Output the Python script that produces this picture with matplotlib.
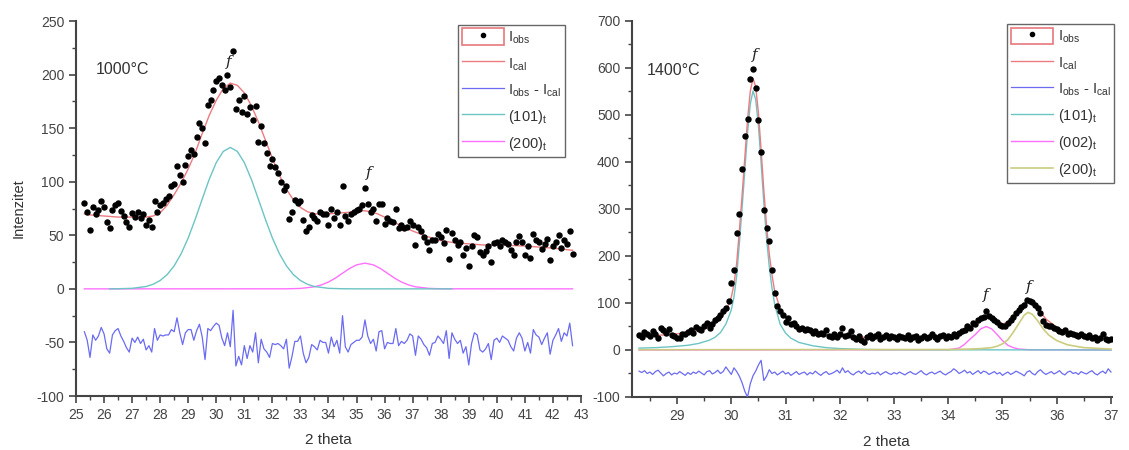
import numpy as np
import matplotlib
matplotlib.use("Agg")
import matplotlib.pyplot as plt
from matplotlib.lines import Line2D
from matplotlib.patches import Rectangle
from matplotlib.legend_handler import HandlerTuple
from matplotlib.ticker import MultipleLocator

plt.rcParams['font.family'] = ['Liberation Sans', 'DejaVu Sans']
plt.rcParams['mathtext.fontset'] = 'custom'
plt.rcParams['mathtext.rm'] = 'Liberation Sans'
plt.rcParams['mathtext.it'] = 'Liberation Sans:italic'
plt.rcParams['axes.unicode_minus'] = False

# ---------------- 1000 C : scan 25.3 .. 42.7, step 0.1 ----------------
obs_1000 = [80, 72, 55, 76, 70, 74, 82, 76, 62, 57,
            74, 78, 80, 73, 68, 62, 58, 71, 67, 72,
            66, 70, 60, 64, 58, 82, 72, 78, 80, 84,
            87, 96, 98, 115, 106, 100, 116, 124, 130, 126,
            142, 155, 150, 136, 172, 176, 186, 194, 197, 190,
            186, 200, 188, 222, 168, 176, 165, 180, 163, 170,
            158, 171, 137, 152, 136, 127, 115, 121, 114, 108,
            100, 92, 96, 65, 72, 83, 80, 82, 64, 54,
            58, 69, 66, 63, 72, 70, 70, 60, 75, 66,
            72, 60, 96, 68, 63, 70, 72, 74, 75, 78,
            94, 79, 72, 75, 63, 79, 79, 61, 66, 63,
            62, 75, 57, 60, 57, 58, 63, 60, 41, 58,
            54, 48, 44, 36, 46, 46, 51, 48, 43, 55,
            28, 52, 46, 41, 44, 32, 38, 21, 40, 50,
            48, 34, 32, 35, 40, 25, 43, 44, 40, 46,
            44, 42, 36, 32, 44, 49, 44, 32, 40, 29,
            51, 46, 44, 37, 42, 47, 27, 40, 44, 50,
            38, 46, 42, 54, 33]
res_1000 = [-40, -48, -64, -43, -48, -44, -36, -42, -56, -60,
            -43, -39, -37, -44, -49, -55, -59, -46, -50, -45,
            -51, -47, -57, -53, -59, -37, -48, -43, -44, -43,
            -43, -38, -40, -27, -41, -52, -41, -38, -38, -48,
            -39, -33, -45, -66, -37, -39, -35, -32, -34, -46,
            -53, -41, -54, -20, -72, -63, -71, -53, -65, -53,
            -59, -41, -69, -47, -56, -59, -64, -51, -52, -51,
            -53, -56, -47, -74, -63, -49, -49, -44, -60, -69,
            -64, -52, -54, -57, -48, -50, -50, -60, -45, -54,
            -48, -60, -25, -54, -59, -52, -50, -48, -48, -45,
            -29, -44, -51, -47, -58, -40, -39, -56, -50, -51,
            -51, -37, -53, -49, -51, -48, -42, -44, -62, -44,
            -47, -52, -55, -62, -51, -50, -44, -47, -51, -39,
            -65, -41, -47, -51, -48, -60, -54, -71, -51, -41,
            -43, -57, -59, -56, -51, -66, -48, -46, -50, -44,
            -46, -48, -54, -58, -46, -41, -46, -58, -50, -60,
            -38, -43, -45, -52, -46, -41, -61, -48, -43, -37,
            -49, -41, -44, -32, -53]

cal_1000_x = [25.3, 25.5, 26.0, 26.5, 27.0, 27.5, 27.75, 28.0, 28.25, 28.5,
              28.75, 29.0, 29.25, 29.5, 29.75, 30.0, 30.25, 30.5, 30.75, 31.0,
              31.25, 31.5, 31.75, 32.0, 32.25, 32.5, 32.75, 33.0, 33.25, 33.5,
              33.75, 34.0, 34.5, 35.0, 35.25, 35.5, 35.75, 36.0, 36.5, 37.0,
              37.5, 38.0, 38.5, 39.0, 39.5, 40.0, 41.0, 41.5, 42.0, 42.7]
cal_1000 = [70, 69, 68, 67, 67, 67, 68, 71, 78, 88,
            99, 112, 127, 145, 162, 176, 187, 192, 190, 183,
            171, 156, 139, 122, 106, 93, 83, 76, 72, 70,
            70, 70, 71, 72, 73, 72, 70, 67, 60, 54,
            49, 45, 43, 42, 41, 41, 40, 39, 38, 36]

p101_1000_x = [26.2, 26.5, 27.0, 27.5, 27.75, 28.0, 28.25, 28.5, 28.75, 29.0,
               29.25, 29.5, 29.75, 30.0, 30.25, 30.5, 30.75, 31.0, 31.25, 31.5,
               31.75, 32.0, 32.25, 32.5, 32.75, 33.0, 33.25, 33.5, 34.0, 34.5,
               35.0, 38.4]
p101_1000 = [0, 0.1, 0.5, 2.2, 4.3, 7.8, 13.3, 21.5, 32.9, 47.5,
             65, 83.8, 102.3, 117.9, 128.3, 132, 128.3, 117.9, 102.3, 83.8,
             65, 47.5, 32.9, 21.5, 13.3, 7.8, 4.3, 2.2, 0.5, 0.1,
             0, 0]

p200_1000_x = [25.3, 32.5, 33.0, 33.5, 33.75, 34.0, 34.25, 34.5, 34.75, 35.0,
               35.3, 35.6, 35.85, 36.1, 36.35, 36.6, 36.85, 37.1, 37.6, 38.1,
               42.7]
p200_1000 = [0, 0.05, 0.4, 1.9, 3.7, 6.4, 10.1, 14.6, 19, 22.4,
             24, 22.4, 19, 14.6, 10.1, 6.4, 3.7, 1.9, 0.4, 0.05,
             0]

# ---------------- 1400 C : scan 28.3 .. 37.0, step 0.05 ----------------
obs_1400 = [32, 28, 38, 35, 30, 40, 33, 25, 47, 42,
            36, 44, 32, 30, 26, 25, 34, 33, 38, 43,
            36, 48, 45, 42, 52, 58, 47, 56, 64, 68,
            74, 82, 90, 104, 142, 170, 249, 290, 385, 456,
            492, 577, 597, 557, 490, 422, 298, 260, 232, 170,
            121, 94, 82, 74, 60, 67, 55, 58, 50, 44,
            46, 42, 44, 43, 36, 40, 34, 36, 33, 43,
            30, 28, 33, 27, 35, 46, 30, 32, 40, 27,
            24, 30, 22, 18, 28, 32, 26, 29, 34, 24,
            27, 31, 25, 29, 28, 23, 30, 27, 26, 31,
            24, 27, 29, 22, 26, 30, 25, 28, 33, 27,
            24, 29, 31, 26, 29, 27, 33, 30, 36, 40,
            43, 50, 47, 57, 55, 64, 68, 71, 82, 72,
            68, 64, 60, 54, 52, 50, 57, 63, 71, 78,
            85, 92, 96, 106, 104, 103, 95, 89, 78, 62,
            53, 50, 52, 46, 44, 40, 39, 42, 35, 36,
            33, 32, 30, 33, 29, 27, 31, 25, 28, 22,
            26, 35, 24, 21, 23]
res_1400 = [-45, -48, -44, -50, -47, -52, -46, -43, -49, -55,
            -50, -47, -53, -49, -51, -46, -50, -54, -48, -52,
            -47, -50, -45, -49, -53, -46, -44, -51, -48, -43,
            -50, -46, -36, -44, -52, -38, -46, -56, -70, -88,
            -100, -72, -55, -45, -32, -22, -65, -56, -42, -50,
            -47, -53, -49, -45, -51, -48, -54, -50, -46, -52,
            -49, -47, -53, -48, -51, -45, -50, -54, -49, -46,
            -52, -50, -47, -43, -49, -38, -48, -44, -50, -53,
            -48, -45, -50, -44, -50, -52, -49, -51, -47, -53,
            -49, -46, -50, -52, -48, -51, -47, -50, -53, -49,
            -46, -50, -52, -48, -44, -50, -53, -49, -47, -51,
            -48, -45, -50, -53, -49, -46, -40, -44, -50, -47,
            -43, -49, -46, -52, -48, -44, -50, -45, -47, -52,
            -49, -46, -51, -48, -54, -50, -47, -52, -49, -45,
            -48, -51, -55, -47, -44, -50, -53, -46, -42, -48,
            -52, -49, -46, -51, -48, -44, -50, -53, -47, -45,
            -50, -48, -52, -46, -49, -51, -47, -44, -50, -53,
            -48, -45, -50, -40, -47]

cal_1400_x = [28.3, 28.6, 28.9, 29.2, 29.4, 29.6, 29.7, 29.8, 29.9, 30.0,
              30.05, 30.1, 30.15, 30.2, 30.25, 30.3, 30.35, 30.4, 30.45, 30.5,
              30.55, 30.6, 30.65, 30.7, 30.75, 30.8, 30.9, 31.0, 31.1, 31.25,
              31.5, 31.75, 32.0, 32.5, 33.0, 33.5, 34.0, 34.2, 34.4, 34.55,
              34.65, 34.72, 34.8, 34.9, 35.0, 35.1, 35.2, 35.3, 35.4, 35.47,
              35.55, 35.65, 35.8, 36.0, 36.2, 36.5, 36.8, 37.0]
cal_1400 = [30, 31, 33, 37, 41, 49, 56, 66, 82, 112,
            140, 185, 255, 330, 410, 490, 550, 578, 560, 505,
            425, 340, 265, 205, 160, 125, 88, 68, 56, 46,
            37, 32, 29, 27, 26, 26, 28, 33, 45, 60,
            72, 75, 70, 60, 55, 60, 72, 88, 100, 104,
            100, 88, 66, 48, 38, 30, 25, 23]

p101_1400_x = [28.3, 28.6, 28.9, 29.2, 29.4, 29.6, 29.7, 29.8, 29.9, 30.0,
               30.05, 30.1, 30.15, 30.2, 30.25, 30.3, 30.35, 30.4, 30.45, 30.5,
               30.55, 30.6, 30.65, 30.7, 30.75, 30.8, 30.9, 31.0, 31.1, 31.25,
               31.5, 31.75, 32.0, 32.5, 33.0, 37.0]
p101_1400 = [4, 5, 7, 10, 14, 21, 27, 37, 55, 85,
             113, 158, 228, 303, 383, 463, 523, 551, 533, 478,
             398, 313, 238, 178, 132, 97, 55, 36, 25, 16,
             9, 5, 3, 1, 0.5, 0]

p002_1400_x = [28.3, 34.0, 34.2, 34.3, 34.4, 34.5, 34.6, 34.7, 34.8, 34.9,
               35.0, 35.1, 35.2, 35.3, 35.5, 37.0]
p002_1400 = [0, 0.5, 4, 12, 23, 33, 45, 50, 45, 33,
             20, 10, 5, 2, 0.5, 0]

p200_1400_x = [28.3, 34.0, 34.4, 34.6, 34.8, 34.9, 35.0, 35.1, 35.2, 35.3,
               35.4, 35.47, 35.55, 35.65, 35.75, 35.85, 36.0, 36.2, 36.5, 37.0]
p200_1400 = [0.5, 1, 2, 3, 5, 8, 13, 22, 38, 56,
             74, 80, 76, 62, 45, 32, 20, 11, 5, 2]

x_1000 = np.round(25.3 + 0.1 * np.arange(len(obs_1000)), 2)
x_1400 = np.round(28.3 + 0.05 * np.arange(len(obs_1400)), 2)

c_cal = '#ec7b80'
c_res = '#6b6bf2'
c_101 = '#6cc4c4'
c_mag = '#ff70ff'
c_olive = '#cccc80'
c_axis = '#444444'

fig = plt.figure(figsize=(11.29, 4.5), dpi=100)
ax1 = fig.add_axes([0.0673, 0.12, 0.4473, 0.8333])
ax2 = fig.add_axes([0.5598, 0.1178, 0.4252, 0.8356])


def style(ax):
    for s in ['top', 'right']:
        ax.spines[s].set_visible(False)
    for s in ['left', 'bottom']:
        ax.spines[s].set_color(c_axis)
        ax.spines[s].set_linewidth(1.5)
    ax.tick_params(which='major', direction='out', length=5, width=1.2,
                   color=c_axis, labelcolor='#444444', labelsize=10)
    ax.tick_params(which='minor', direction='out', length=3, width=1.0,
                   color=c_axis)


def make_legend(ax, lines, labels, anchor):
    box = Rectangle((0, 0), 1, 1, facecolor='white', edgecolor='#e8787c', lw=1.2)
    dot = Line2D([], [], ls='none', marker='o', ms=3, color='black')
    handles = [(box, dot)] + lines
    leg = ax.legend(handles, labels,
                    handler_map={tuple: HandlerTuple(ndivide=1, pad=0)},
                    loc='upper right', bbox_to_anchor=anchor, fontsize=10.5,
                    handlelength=2.9, handleheight=1.4, labelspacing=0.6,
                    handletextpad=0.3, borderpad=0.25, borderaxespad=0,
                    fancybox=False, framealpha=1, edgecolor='#666666')
    leg.get_frame().set_linewidth(1.0)
    for t in leg.get_texts():
        t.set_color('#333333')


# ---- left panel ----
ax = ax1
style(ax)
ax.plot(p200_1000_x, p200_1000, color=c_mag, lw=1.0, zorder=2)
l101, = ax.plot(p101_1000_x, p101_1000, color=c_101, lw=1.0, zorder=2)
lcal, = ax.plot(cal_1000_x, cal_1000, color=c_cal, lw=1.0, zorder=3)
lres, = ax.plot(x_1000, res_1000, color=c_res, lw=0.9, zorder=3)
ax.plot(x_1000, obs_1000, ls='none', marker='o', ms=3.6, color='black', zorder=4)
l200 = Line2D([], [], color=c_mag, lw=1.0)
ax.set_xlim(25, 43)
ax.set_ylim(-100, 250)
ax.xaxis.set_major_locator(MultipleLocator(1))
ax.xaxis.set_minor_locator(MultipleLocator(0.5))
ax.yaxis.set_major_locator(MultipleLocator(50))
ax.yaxis.set_minor_locator(MultipleLocator(25))
ax.set_xlabel('2 theta', fontsize=11, color='#333333')
ax.xaxis.set_label_coords(0.5, -0.1)
ax.set_ylabel('Intenzitet', fontsize=10.5, color='#333333', labelpad=8)
ax.text(25.7, 205, '1000°C', fontsize=11.5, color='#333333', va='center', ha='left')
ax.text(30.45, 212, 'f', fontsize=11, style='italic', family='DejaVu Serif',
        color='#222222', ha='center', va='center')
ax.text(35.42, 108, 'f', fontsize=11, style='italic', family='DejaVu Serif',
        color='#222222', ha='center', va='center')
make_legend(ax, [lcal, lres, l101, l200],
            [r'I$_{\mathrm{obs}}$', r'I$_{\mathrm{cal}}$',
             r'I$_{\mathrm{obs}}$ - I$_{\mathrm{cal}}$',
             r'(101)$_{\mathrm{t}}$', r'(200)$_{\mathrm{t}}$'],
            (0.968, 0.99))

# ---- right panel ----
ax = ax2
style(ax)
ax.plot(p002_1400_x, p002_1400, color=c_mag, lw=1.0, zorder=2)
r101, = ax.plot(p101_1400_x, p101_1400, color=c_101, lw=1.0, zorder=2)
r200, = ax.plot(p200_1400_x, p200_1400, color=c_olive, lw=1.2, zorder=2)
rcal, = ax.plot(cal_1400_x, cal_1400, color=c_cal, lw=1.0, zorder=3)
rres, = ax.plot(x_1400, res_1400, color=c_res, lw=0.9, zorder=3)
ax.plot(x_1400, obs_1400, ls='none', marker='o', ms=3.6, color='black', zorder=4)
r002 = Line2D([], [], color=c_mag, lw=1.0)
ax.set_xlim(28.17, 37.02)
ax.set_ylim(-100, 700)
ax.xaxis.set_major_locator(MultipleLocator(1))
ax.xaxis.set_minor_locator(MultipleLocator(0.5))
ax.yaxis.set_major_locator(MultipleLocator(100))
ax.yaxis.set_minor_locator(MultipleLocator(50))
ax.set_xlabel('2 theta', fontsize=11, color='#333333')
ax.xaxis.set_label_coords(0.53, -0.1)
ax.text(28.45, 594, '1400°C', fontsize=11.5, color='#333333', va='center', ha='left')
for fx, fy in [(30.43, 628), (34.70, 117), (35.49, 134)]:
    ax.text(fx, fy, 'f', fontsize=11, style='italic', family='DejaVu Serif',
            color='#222222', ha='center', va='center')
make_legend(ax, [rcal, rres, r101, r002, r200],
            [r'I$_{\mathrm{obs}}$', r'I$_{\mathrm{cal}}$',
             r'I$_{\mathrm{obs}}$ - I$_{\mathrm{cal}}$',
             r'(101)$_{\mathrm{t}}$', r'(002)$_{\mathrm{t}}$', r'(200)$_{\mathrm{t}}$'],
            (1.004, 0.992))

fig.savefig('out.png', dpi=100)
